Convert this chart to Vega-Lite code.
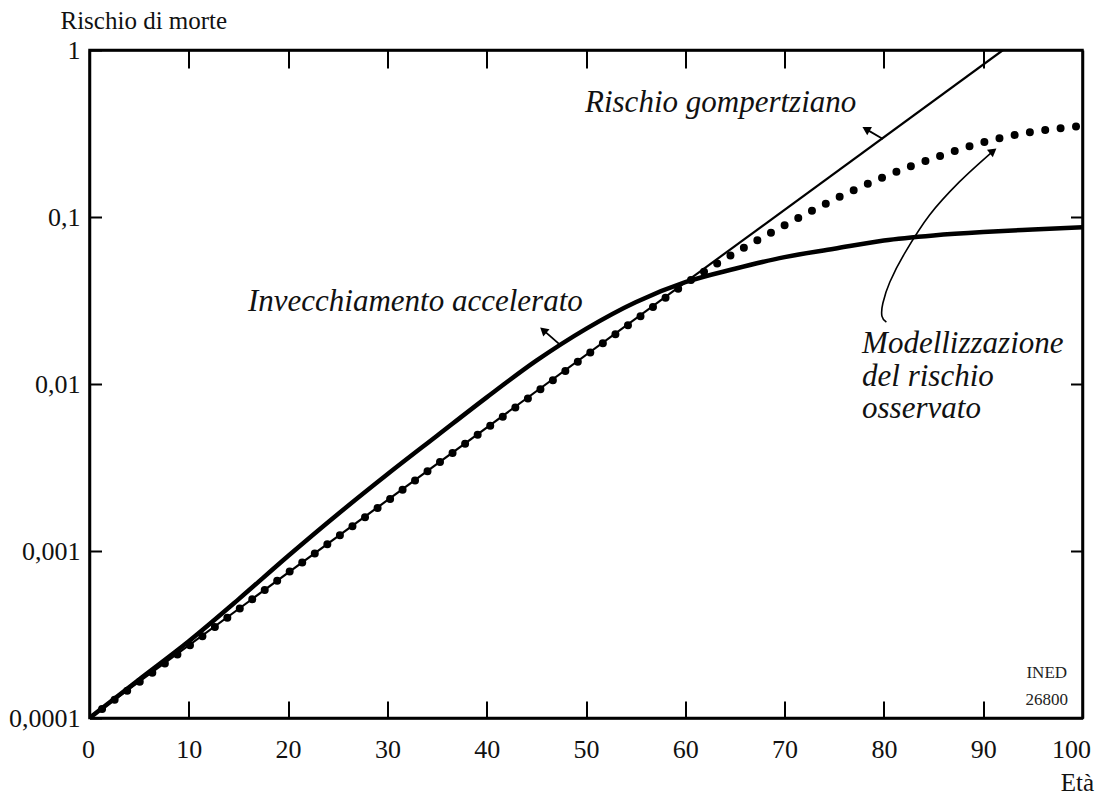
{
  "$schema": "https://vega.github.io/schema/vega-lite/v6.json",
  "width": 993,
  "height": 668,
  "autosize": {"type": "none"},
  "padding": {"left": 89.5, "top": 50, "right": 15.5, "bottom": 78},
  "background": "white",
  "config": {
    "view": {"stroke": "black", "strokeWidth": 2.5},
    "font": "Liberation Serif",
    "axis": {"grid": false, "domainColor": "black", "domainWidth": 2.5, "tickColor": "black", "tickWidth": 2, "labelColor": "#111", "labelFont": "Liberation Serif", "labelFontSize": 26, "titleFont": "Liberation Serif", "titleColor": "#111"}
  },
  "datasets": {
    "gomp": [{"age": 0, "risk": 0.0001}, {"age": 92, "risk": 1}],
    "accel": [
      {"age": 0, "risk": 0.0001}, {"age": 5, "risk": 0.00017}, {"age": 10, "risk": 0.000288}, {"age": 15, "risk": 0.000513},
      {"age": 20, "risk": 0.000933}, {"age": 25, "risk": 0.00166}, {"age": 30, "risk": 0.00288}, {"age": 35, "risk": 0.0049},
      {"age": 40, "risk": 0.00832}, {"age": 45, "risk": 0.0138}, {"age": 50, "risk": 0.0214}, {"age": 55, "risk": 0.0309},
      {"age": 60, "risk": 0.0407}, {"age": 65, "risk": 0.049}, {"age": 70, "risk": 0.0575}, {"age": 75, "risk": 0.0646},
      {"age": 80, "risk": 0.0724}, {"age": 85, "risk": 0.0776}, {"age": 90, "risk": 0.0813}, {"age": 95, "risk": 0.0841},
      {"age": 100, "risk": 0.0867}
    ],
    "observed": [
      {"age": 0, "risk": 0.0001}, {"age": 5, "risk": 0.000164}, {"age": 10, "risk": 0.000269}, {"age": 15, "risk": 0.000447},
      {"age": 20, "risk": 0.000741}, {"age": 25, "risk": 0.001216}, {"age": 30, "risk": 0.001995}, {"age": 35, "risk": 0.00331},
      {"age": 40, "risk": 0.00543}, {"age": 45, "risk": 0.00891}, {"age": 50, "risk": 0.01479}, {"age": 55, "risk": 0.02427},
      {"age": 60, "risk": 0.0398}, {"age": 65, "risk": 0.061}, {"age": 70, "risk": 0.0891}, {"age": 75, "risk": 0.1274},
      {"age": 80, "risk": 0.1738}, {"age": 85, "risk": 0.2249}, {"age": 90, "risk": 0.2805}, {"age": 95, "risk": 0.3236},
      {"age": 100, "risk": 0.3508}
    ],
    "labels": [
      {"age": 49.9, "risk": 0.4256, "text": "Rischio gompertziano"},
      {"age": 15.96, "risk": 0.02735, "text": "Invecchiamento accelerato"},
      {"age": 77.8, "risk": 0.01535, "text": "Modellizzazione"},
      {"age": 77.8, "risk": 0.00973, "text": "del rischio"},
      {"age": 77.8, "risk": 0.00625, "text": "osservato"}
    ],
    "ined": [
      {"age": 96.4, "risk": 0.0001738, "text": "INED"},
      {"age": 96.4, "risk": 0.0001196, "text": "26800"}
    ],
    "pointers": [
      {"age": 79.9, "risk": 0.293, "age2": 78.2, "risk2": 0.336},
      {"age": 47.4, "risk": 0.01714, "age2": 45.7, "risk2": 0.021}
    ],
    "curvedArrow": [
      {"i": 1, "age": 80.25, "risk": 0.02349}, {"i": 2, "age": 79.8, "risk": 0.02553}, {"i": 3, "age": 79.9, "risk": 0.03055},
      {"i": 4, "age": 80.6, "risk": 0.04083}, {"i": 5, "age": 82.1, "risk": 0.06081}, {"i": 6, "age": 84.6, "risk": 0.1028},
      {"i": 7, "age": 87.6, "risk": 0.1622}, {"i": 8, "age": 91.0, "risk": 0.2483}
    ],
    "headG": [{"age": 78.2, "risk": 0.336}],
    "headA": [{"age": 45.7, "risk": 0.021}],
    "headM": [{"age": 91.0, "risk": 0.2483}]
  },
  "layer": [
    {
      "data": {"name": "gomp"},
      "mark": {"type": "line", "color": "black", "strokeWidth": 2.2, "clip": true},
      "encoding": {
        "x": {"field": "age", "type": "quantitative", "scale": {"domain": [0, 100], "nice": false, "zero": false},
          "axis": {"values": [0, 10, 20, 30, 40, 50, 60, 70, 80, 90, 100], "tickSize": -17, "labelPadding": 35, "labelFlush": true, "labelFlushOffset": 8, "title": "Età", "titleFontSize": 25, "titleFontWeight": "normal", "titleAlign": "right", "titleBaseline": "alphabetic", "titleX": 1004, "titleY": 72}},
        "y": {"field": "risk", "type": "quantitative", "scale": {"type": "log", "domain": [0.0001, 1], "nice": false},
          "axis": {"values": [0.0001, 0.001, 0.01, 0.1, 1], "tickSize": -12, "labelPadding": 21.5, "labelFlush": false, "labelExpr": "replace(format(datum.value, '~g'), '.', ',')",
            "title": "Rischio di morte", "titleAngle": 0, "titleAlign": "left", "titleBaseline": "alphabetic", "titleX": -29.5, "titleY": -22, "titleFontSize": 25, "titleFontWeight": "normal"}}
      }
    },
    {
      "data": {"name": "observed"},
      "mark": {"type": "line", "color": "black", "strokeWidth": 8, "strokeCap": "round", "strokeDash": [0, 15.5], "interpolate": "monotone", "clip": true},
      "encoding": {
        "x": {"field": "age", "type": "quantitative", "axis": {"orient": "top", "values": [10, 20, 30, 40, 50, 60, 70, 80, 90], "labels": false, "tickSize": -18, "title": null}},
        "y": {"field": "risk", "type": "quantitative", "scale": {"type": "log"}, "axis": {"orient": "right", "values": [0.001, 0.01, 0.1], "labels": false, "tickSize": -12, "title": null}}
      }
    },
    {
      "data": {"name": "accel"},
      "mark": {"type": "line", "color": "black", "strokeWidth": 4.5, "interpolate": "monotone", "clip": true},
      "encoding": {
        "x": {"field": "age", "type": "quantitative", "axis": null},
        "y": {"field": "risk", "type": "quantitative", "scale": {"type": "log"}, "axis": null}
      }
    },
    {
      "data": {"name": "pointers"},
      "mark": {"type": "rule", "color": "black", "strokeWidth": 1.8},
      "encoding": {
        "x": {"field": "age", "type": "quantitative", "axis": null},
        "y": {"field": "risk", "type": "quantitative", "scale": {"type": "log"}, "axis": null},
        "x2": {"field": "age2"},
        "y2": {"field": "risk2"}
      }
    },
    {
      "data": {"name": "curvedArrow"},
      "mark": {"type": "line", "color": "black", "strokeWidth": 1.6, "interpolate": "cardinal"},
      "encoding": {
        "x": {"field": "age", "type": "quantitative", "axis": null},
        "y": {"field": "risk", "type": "quantitative", "scale": {"type": "log"}, "axis": null},
        "order": {"field": "i", "type": "quantitative"}
      }
    },
    {
      "data": {"name": "headG"},
      "mark": {"type": "point", "shape": "triangle-up", "filled": true, "color": "black", "size": 90, "angle": -60, "opacity": 1},
      "encoding": {
        "x": {"field": "age", "type": "quantitative", "axis": null},
        "y": {"field": "risk", "type": "quantitative", "scale": {"type": "log"}, "axis": null}
      }
    },
    {
      "data": {"name": "headA"},
      "mark": {"type": "point", "shape": "triangle-up", "filled": true, "color": "black", "size": 90, "angle": -49, "opacity": 1},
      "encoding": {
        "x": {"field": "age", "type": "quantitative", "axis": null},
        "y": {"field": "risk", "type": "quantitative", "scale": {"type": "log"}, "axis": null}
      }
    },
    {
      "data": {"name": "headM"},
      "mark": {"type": "point", "shape": "triangle-up", "filled": true, "color": "black", "size": 90, "angle": 52, "opacity": 1},
      "encoding": {
        "x": {"field": "age", "type": "quantitative", "axis": null},
        "y": {"field": "risk", "type": "quantitative", "scale": {"type": "log"}, "axis": null}
      }
    },
    {
      "data": {"name": "labels"},
      "mark": {"type": "text", "align": "left", "baseline": "alphabetic", "font": "Liberation Serif", "fontStyle": "italic", "fontSize": 31, "color": "#111"},
      "encoding": {
        "x": {"field": "age", "type": "quantitative", "axis": null},
        "y": {"field": "risk", "type": "quantitative", "scale": {"type": "log"}, "axis": null},
        "text": {"field": "text"}
      }
    },
    {
      "data": {"name": "ined"},
      "mark": {"type": "text", "align": "center", "baseline": "alphabetic", "font": "Liberation Serif", "fontSize": 17, "color": "#222"},
      "encoding": {
        "x": {"field": "age", "type": "quantitative", "axis": null},
        "y": {"field": "risk", "type": "quantitative", "scale": {"type": "log"}, "axis": null},
        "text": {"field": "text"}
      }
    }
  ],
  "resolve": {"axis": {"x": "independent", "y": "independent"}}
}
